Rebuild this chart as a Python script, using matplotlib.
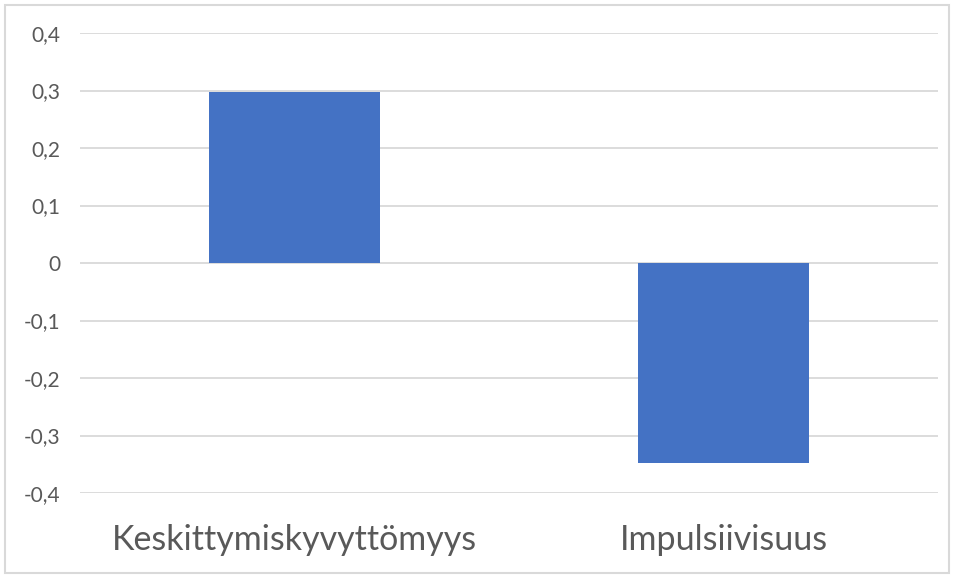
import matplotlib
matplotlib.use("Agg")
import matplotlib.pyplot as plt
from matplotlib.patches import Rectangle

categories = ["Keskittymiskyvyttömyys", "Impulsiivisuus"]
values = [0.297, -0.348]
yticks = [-0.4, -0.3, -0.2, -0.1, 0.0, 0.1, 0.2, 0.3, 0.4]

plt.rcParams['font.family'] = ['Lato', 'DejaVu Sans']

W, H = 954, 578
fig = plt.figure(figsize=(W/100, H/100), dpi=100)
ax = fig.add_axes([80/W, (H-493)/H, (938-80)/W, (493-33)/H])

x = list(range(len(categories)))
ax.bar(x, values, width=0.4, color="#4472C4", zorder=3)
ax.set_xlim(-0.5, len(categories) - 0.5)
ax.set_ylim(-0.4, 0.4)
ax.set_yticks(yticks)
ax.set_yticklabels([("%g" % t).replace(".", ",") if t != 0 else "0" for t in yticks])
ax.yaxis.grid(True, color="#D9D9D9", linewidth=1.3, zorder=0)
ax.set_xticks(x)
ax.set_xticklabels(categories)
for s in ax.spines.values():
    s.set_visible(False)
ax.tick_params(axis='y', length=0, pad=14, labelsize=15, labelcolor="#595959")
ax.tick_params(axis='x', length=0, pad=22, labelsize=24.5, labelcolor="#595959")

fig.patches.append(Rectangle((5/W, 5/H), (W-10)/W, (H-10)/H, transform=fig.transFigure,
                             fill=False, edgecolor="#D9D9D9", linewidth=1.5))

fig.savefig("out.png", dpi=100)
